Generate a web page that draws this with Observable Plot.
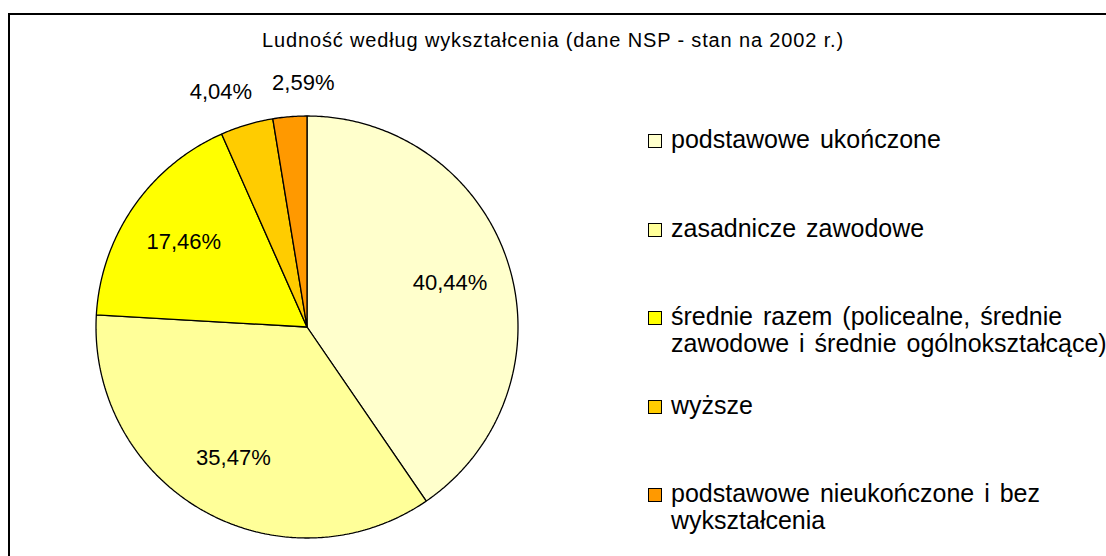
<!DOCTYPE html>
<html>
<head>
<meta charset="utf-8">
<script src="https://cdn.jsdelivr.net/npm/d3@7"></script>
<script src="https://cdn.jsdelivr.net/npm/@observablehq/plot@0.6"></script>
<style>
  html, body { margin: 0; padding: 0; background: #fff; }
  body { width: 1106px; height: 556px; overflow: hidden; position: relative;
         font-family: "Liberation Sans", Arial, sans-serif; color: #000; }
  #frame { position: absolute; left: 8px; top: 13px; width: 1200px; height: 700px;
           border: 2px solid #000; box-sizing: border-box; }
  #title { position: absolute; top: 30px; left: 0; width: 1106px; text-align: center;
           font-size: 20px; line-height: 20px; white-space: nowrap; }
  #title span { display: inline-block; }
  #chart { position: absolute; left: 0; top: 70px; }
  .item { position: absolute; left: 671px; width: 480px; font-size: 25px; line-height: 27px;
          word-spacing: 3px; }
  .sw { position: absolute; left: 648px; width: 14px; height: 14px; border: 1px solid #000;
        box-sizing: border-box; }
</style>
</head>
<body>
<div id="frame"></div>
<div id="title"><span id="titleText"></span></div>
<div id="chart"></div>
<div id="legend"></div>
<script>
// ---- data ----
const title = "Ludność według wykształcenia (dane NSP - stan na 2002 r.)";
const categories = [
  "podstawowe ukończone",
  "zasadnicze zawodowe",
  "średnie razem (policealne, średnie zawodowe i średnie ogólnokształcące)",
  "wyższe",
  "podstawowe nieukończone i bez wykształcenia"
];
const shares = [40.44, 35.47, 17.46, 4.04, 2.59];
const colors = ["#FFFFCC", "#FFFF99", "#FFFF00", "#FFCC00", "#FF9900"];

// ---- layout ----
const R = 211;            // pie radius in px
const cx = 306.5, cy = 326.5; // pie centre on the page
const W = 613, H = 486, top0 = 70;
const xr = W / 2 / R;
const yTop = (cy - top0) / R, yBot = -(top0 + H - cy) / R;

// title (fit to reference width)
const tEl = document.getElementById("titleText");
tEl.textContent = title;
const natural = tEl.getBoundingClientRect().width;
tEl.style.letterSpacing = Math.max(0, (582 - natural) / title.length) + "px";

// slices
const arcs = d3.pie().sort(null).value(d => d)(shares);
const pts = [];
arcs.forEach((a, i) => {
  pts.push({key: i, x: 0, y: 0, fc: colors[i]});
  const n = Math.max(2, Math.ceil((a.endAngle - a.startAngle) / (Math.PI / 360)));
  for (let k = 0; k <= n; k++) {
    const t = a.startAngle + (a.endAngle - a.startAngle) * k / n;
    pts.push({key: i, x: Math.sin(t), y: Math.cos(t), fc: colors[i]});
  }
});

// labels
const fmt = v => v.toFixed(2).replace(".", ",") + "%";
const fs = 22;
const labels = arcs.map((a, i) => {
  const m = (a.startAngle + a.endAngle) / 2;
  const outside = shares[i] < 5;
  const r = outside ? 1.16 : 0.71;
  const text = fmt(shares[i]);
  return {x: r * Math.sin(m), y: r * Math.cos(m), text, outside, w: text.length * 0.567 * fs / R};
});
// resolve overlaps between outside labels by pushing neighbours apart horizontally
const gap = 20 / R, hgt = fs / R;
for (let i = 0; i < labels.length - 1; i++) {
  const a = labels[i], b = labels[i + 1];
  if (!a.outside || !b.outside) continue;
  const need = (a.w + b.w) / 2 + gap;
  const dx = b.x - a.x;
  if (Math.abs(a.y - b.y) < hgt && dx < need) {
    const push = (need - dx) / 2;
    a.x -= push; b.x += push;
  }
}

const chart = Plot.plot({
  width: W, height: H, margin: 0,
  x: {domain: [-xr, xr], axis: null},
  y: {domain: [yBot, yTop], axis: null},
  color: {type: "identity"},
  style: {background: "transparent", fontFamily: "'Liberation Sans', Arial, sans-serif", overflow: "visible"},
  marks: [
    Plot.line(pts, {x: "x", y: "y", z: "key", fill: "fc", stroke: "#000", strokeWidth: 1.3,
                    curve: "linear-closed", strokeLinejoin: "miter"}),
    Plot.text(labels, {x: "x", y: "y", text: "text", fontSize: fs, fill: "#000"})
  ]
});
document.getElementById("chart").appendChild(chart);

// legend
const legend = document.getElementById("legend");
categories.forEach((c, i) => {
  const base = 148 + i * 88.5;
  const sw = document.createElement("div");
  sw.className = "sw";
  sw.style.top = (base - 14) + "px";
  sw.style.background = colors[i];
  legend.appendChild(sw);
  const it = document.createElement("div");
  it.className = "item";
  it.style.top = (base - 22) + "px";
  it.textContent = c;
  legend.appendChild(it);
});
</script>
</body>
</html>
